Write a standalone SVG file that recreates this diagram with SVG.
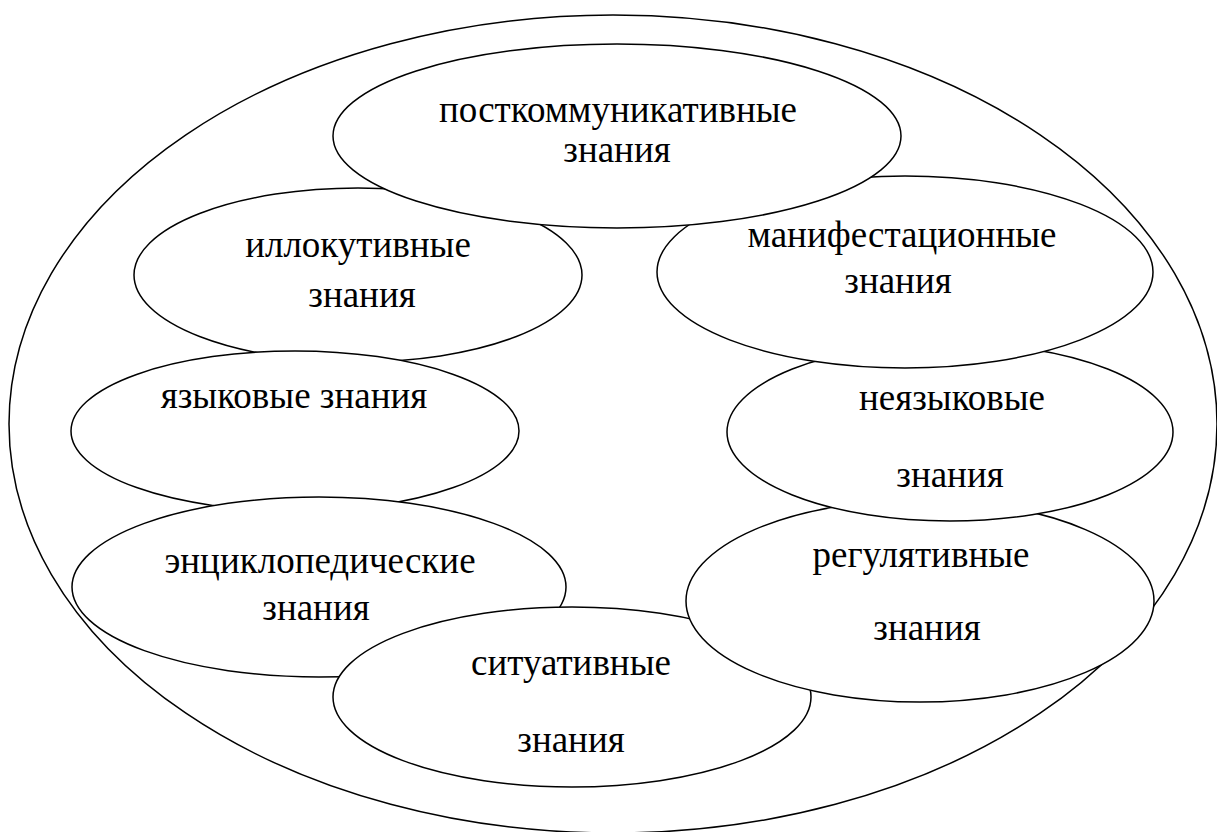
<svg xmlns="http://www.w3.org/2000/svg" width="1217" height="832" viewBox="0 0 1217 832">
<style>
.e{fill:#fff;stroke:#000;stroke-width:1.5}
</style>
<rect width="1217" height="832" fill="#fff"/>
<g id="outer"><ellipse class="e" cx="613" cy="424" rx="604" ry="409"/></g>
<g font-family="Liberation Serif, DejaVu Serif, serif" font-size="37" text-anchor="middle" fill="#000">
<g id="illok"><ellipse class="e" cx="358" cy="275" rx="224" ry="87"/>
<text x="358" y="257">иллокутивные</text><text x="362" y="307">знания</text></g>
<g id="yazyk"><ellipse class="e" cx="295" cy="431" rx="224" ry="80"/>
<text x="294" y="408">языковые знания</text></g>
<g id="encikl"><ellipse class="e" cx="319" cy="587" rx="247" ry="90"/>
<text x="320" y="573">энциклопедические</text><text x="316" y="620">знания</text></g>
<g id="situ"><ellipse class="e" cx="572" cy="697" rx="239" ry="90"/>
<text x="571" y="675">ситуативные</text><text x="571" y="752">знания</text></g>
<g id="regul"><ellipse class="e" cx="920" cy="601" rx="234" ry="101"/>
<text x="921" y="567">регулятивные</text><text x="927" y="640">знания</text></g>
<g id="neyazyk"><ellipse class="e" cx="950" cy="432" rx="223" ry="89"/>
<text x="952" y="410">неязыковые</text><text x="950" y="487">знания</text></g>
<g id="manif"><ellipse class="e" cx="905" cy="272" rx="248" ry="96"/>
<text x="902" y="247">манифестационные</text><text x="898" y="293">знания</text></g>
<g id="post"><ellipse class="e" cx="617" cy="136" rx="284" ry="92"/>
<text x="618" y="122">посткоммуникативные</text><text x="617" y="162">знания</text></g>
</g>
<g id="connectors"></g>
</svg>
